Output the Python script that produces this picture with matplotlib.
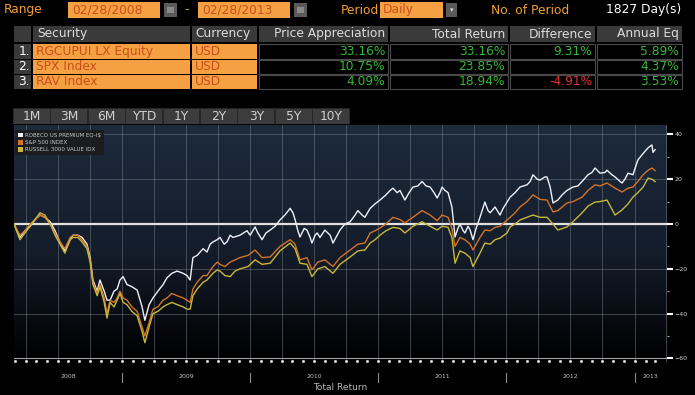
import numpy as np
import pandas as pd
import matplotlib
matplotlib.use("Agg")
import matplotlib.pyplot as plt
import matplotlib.dates as mdates
from matplotlib.patches import Rectangle, Patch
from matplotlib.colors import LinearSegmentedColormap
from matplotlib.transforms import blended_transform_factory

plt.rcParams["font.family"] = ["DejaVu Sans"]

START = pd.Timestamp("2008-02-28")

# ---- table data ----
range_from = "02/28/2008"
range_to = "02/28/2013"
period = "Daily"
n_days = 1827
securities = ["RGCUPUI LX Equity", "SPX Index", "RAV Index"]
currencies = ["USD", "USD", "USD"]
price_appr = [33.16, 10.75, 4.09]
total_ret = [33.16, 23.85, 18.94]
difference = [9.31, None, -4.91]
annual_eq = [5.89, 4.37, 3.53]
buttons = ["1M", "3M", "6M", "YTD", "1Y", "2Y", "3Y", "5Y", "10Y"]

# ---- chart data: days since 2008-02-28, cumulative total return (%) ----
legend_labels = ["ROBECO US PREMIUM EQ-I\\$", "S&P 500 INDEX", "RUSSELL 3000 VALUE IDX"]

robeco_days = [0, 17, 31, 46, 60, 74, 88, 103, 117, 131, 145, 160, 168, 182, 194, 208, 217, 225,
               237, 245, 257, 265, 274, 285, 294, 302, 311, 322, 336, 351, 365, 373, 385, 396,
               410, 425, 436, 450, 465, 482, 493, 502, 510, 522, 539, 550, 559, 567, 579, 587,
               599, 607, 616, 624, 644, 664, 673, 687, 695, 707, 718, 730, 744, 758, 772, 787,
               795, 801, 809, 815, 827, 835, 844, 849, 858, 864, 872, 886, 901, 909, 921, 929,
               943, 958, 972, 980, 992, 1000, 1015, 1029, 1043, 1060, 1072, 1080, 1092, 1100,
               1114, 1126, 1137, 1151, 1163, 1174, 1186, 1197, 1206, 1214, 1220, 1228, 1237,
               1248, 1257, 1265, 1271, 1280, 1285, 1294, 1300, 1308, 1317, 1328, 1342, 1351,
               1357, 1371, 1385, 1394, 1405, 1414, 1428, 1442, 1462, 1471, 1479, 1491, 1499,
               1513, 1519, 1528, 1536, 1550, 1562, 1576, 1593, 1607, 1619, 1636, 1647, 1656,
               1670, 1684, 1690, 1704, 1713, 1727, 1733, 1741, 1750, 1764, 1778, 1793, 1807,
               1818, 1821, 1827]
robeco_ret = [0, -6, -3, -1, 2, 4, 3, 1, -3, -8, -12, -7, -5, -5, -6, -9, -15, -25,
              -30, -25, -30, -34, -34, -30, -29, -25, -23.5, -27, -28, -29.5, -37, -43, -36, -33,
              -30, -27, -24, -22, -21, -22, -23, -25, -15, -14, -11, -12.5, -9, -8, -7, -6,
              -9, -8, -5, -6, -5, -3, -5, -1.3, -4, -7, -4, -2.7, -1, 1.8, 4, 7,
              5, 2, -3, -5.8, -2, -2.7, -6, -8.5, -5, -4, -6, -2.7, -5, -8.5, -5, -2.7,
              0, 1, 4, 6, 4, 3, 7, 9, 10.7, 13, 15, 16, 14, 15,
              10.7, 14, 16.5, 17, 19, 17, 16.5, 14, 11.6, 14, 16.5, 15, 14,
              7.6, -5.8, -2, 0, -3, -4, -1, -2.7, -7, -2, 3, 9.8,
              6, 5, 7.6, 4, 7, 9.8, 12, 14, 16.5, 17.5, 19, 22, 20,
              19.6, 21, 21, 16.5, 9.4, 10.7, 13, 15, 16.5, 17, 19, 22, 23,
              25, 22.7, 23, 24, 22, 21, 19, 18.3, 20, 22.7, 22, 28.6, 31.5,
              34, 35.3, 32, 33.2]

index_days = [0, 17, 31, 46, 60, 74, 88, 103, 117, 131, 145, 160, 168, 182, 194, 208, 217, 225,
              237, 245, 257, 265, 274, 285, 294, 302, 311, 322, 336, 351, 365, 373, 385, 396,
              410, 425, 436, 450, 465, 482, 493, 502, 510, 522, 539, 550, 567, 579, 587, 601,
              616, 630, 644, 667, 687, 707, 730, 758, 787, 801, 815, 835, 849, 866, 886, 909,
              929, 958, 980, 1000, 1015, 1029, 1043, 1060, 1080, 1100, 1114, 1137, 1163, 1186,
              1206, 1220, 1237, 1248, 1257, 1271, 1285, 1300, 1308, 1328, 1342, 1357, 1371,
              1385, 1405, 1414, 1428, 1442, 1462, 1479, 1499, 1519, 1536, 1550, 1576, 1593,
              1619, 1636, 1656, 1670, 1690, 1713, 1733, 1750, 1764, 1778, 1793, 1807, 1818, 1827]
spx_ret = [0, -5, -3, 0, 2, 4, 3, 0, -4, -8, -11, -6, -5, -5, -7, -10, -16, -26,
           -31, -27, -33, -40, -34, -35, -33, -30, -33, -34, -37, -39, -46, -50, -44, -38,
           -37, -34, -33, -31, -32, -33, -34, -35, -29, -26, -23, -23, -19, -17, -18, -19,
           -17, -16, -15, -14, -11.6, -15, -14.7, -10, -7, -9, -16, -15, -20.5, -17, -16, -19,
           -15, -11.6, -9, -8.5, -4, -3, -1.8, 0, 3, 2, 0.5, 3, 6, 4,
           1.5, 4, 3, -2, -10, -6, -7, -9, -11.6, -6, -2.7, -3, -1.5,
           -1, 1.8, 3, 5, 7.6, 10, 13, 11, 10.7, 5.4, 6, 9.4, 10,
           12, 15, 17.5, 17, 18.3, 16, 14.3, 16, 16.5, 19, 22, 24, 25, 23.85]
rav_ret = [0, -7, -4, -1, 2, 5, 4, 0, -5, -9, -13, -7, -6, -6, -8, -11, -17, -27,
           -32, -28, -35, -42, -35, -37, -34, -31, -35, -36, -39, -41, -48, -53, -46, -40,
           -39, -37, -36, -35, -36, -37, -38, -38, -32, -29, -26, -25, -22, -20.5, -21, -23,
           -23.5, -21, -20, -19, -16, -18, -17.5, -12, -8.5, -11, -17.5, -18, -23.5, -20, -19, -22,
           -18, -14.7, -12, -11.6, -8.5, -7, -5, -3, -1.5, -2, -4, -1, 1, -1,
           -2.7, -1, -1.5, -6, -17.5, -12, -13, -15, -19, -13, -8.5, -9, -7,
           -6.3, -4, -1.3, 0, 1.8, 3, 4, 3, 3, 0, -2.7, -1.3, 1,
           5, 8, 9.8, 10, 10.7, 4, 6.3, 9, 12, 14, 16.5, 20.5, 20, 18.94]

# ---- colours ----
ORANGE = "#f5a043"
ORANGE_TXT = "#f0a035"
BOX_TXT = "#c8501a"
GREY = "#3a3a3a"
GREEN = "#35b835"
RED = "#e03535"
series_colors = ["#eef0f8", "#d2732a", "#c8b838"]

W, H = 695, 395
fig = plt.figure(figsize=(W / 100, H / 100), dpi=100, facecolor="black")
bg = fig.add_axes([0, 0, 1, 1])
bg.set_xlim(0, W)
bg.set_ylim(H, 0)
bg.axis("off")


def box(x0, y0, x1, y1, fc, ec="none", lw=0.8):
    bg.add_patch(Rectangle((x0, y0), x1 - x0, y1 - y0, facecolor=fc, edgecolor=ec, lw=lw))


fs = 8.8
# top line
bg.text(4, 10, "Range", color=ORANGE_TXT, fontsize=fs, va="center")
box(68, 2, 160, 18, ORANGE)
bg.text(72, 10, range_from, color=BOX_TXT, fontsize=fs, va="center")
box(164, 3, 177, 17, "#5a5a5a")
box(167, 7, 174, 13, "#8a8a8a")
bg.text(187, 10, "-", color=ORANGE_TXT, fontsize=fs, va="center", ha="center")
box(198, 2, 290, 18, ORANGE)
bg.text(202, 10, range_to, color=BOX_TXT, fontsize=fs, va="center")
box(294, 3, 307, 17, "#5a5a5a")
box(297, 7, 304, 13, "#8a8a8a")
bg.text(379, 10, "Period", color=ORANGE_TXT, fontsize=fs, va="center", ha="right")
box(380, 2, 443, 18, ORANGE)
bg.text(383, 10, period, color=BOX_TXT, fontsize=fs, va="center")
box(446, 3, 457, 17, "#5a5a5a")
bg.text(451.5, 10, "\u25be", color="#dddddd", fontsize=5, va="center", ha="center")
bg.text(530, 10, "No. of Period", color=ORANGE_TXT, fontsize=fs, va="center", ha="center")
bg.text(681, 10, f"{n_days} Day(s)", color="white", fontsize=fs, va="center", ha="right")

# header
cols = [(14, 31), (33, 190), (192, 257), (259, 388), (390, 508), (510, 595), (597, 682)]
for x0, x1 in cols:
    box(x0, 26, x1, 42, GREY)
hy = 34
hc = "#dcdcdc"
bg.text(37, hy, "Security", color=hc, fontsize=fs, va="center")
bg.text(195, hy, "Currency", color=hc, fontsize=fs, va="center")
bg.text(385, hy, "Price Appreciation", color=hc, fontsize=fs, va="center", ha="right")
bg.text(505, hy, "Total Return", color=hc, fontsize=fs, va="center", ha="right")
bg.text(592, hy, "Difference", color=hc, fontsize=fs, va="center", ha="right")
bg.text(679, hy, "Annual Eq", color=hc, fontsize=fs, va="center", ha="right")

row_tops = [44, 59.5, 74.5]
for i in range(3):
    t = row_tops[i]
    b = t + 14.5
    c = (t + b) / 2
    box(14, t, 31, b, GREY)
    bg.text(30, c, f"{i + 1}.", color="white", fontsize=fs, va="center", ha="right")
    box(33, t, 190, b, ORANGE)
    bg.text(36, c, securities[i], color=BOX_TXT, fontsize=fs, va="center")
    box(192, t, 257, b, ORANGE)
    bg.text(195, c, currencies[i], color=BOX_TXT, fontsize=fs, va="center")
    vals = [price_appr[i], total_ret[i], difference[i], annual_eq[i]]
    for (x0, x1), v in zip(cols[3:], vals):
        box(x0, t, x1, b, "black", ec="#4a4a4a", lw=0.8)
        if v is not None:
            bg.text(x1 - 3, c, f"{v:.2f}%", color=GREEN if v >= 0 else RED,
                    fontsize=fs, va="center", ha="right")

# range buttons
box(13, 108, 350, 124, "#262626")
bw = (350 - 13) / len(buttons)
for k, lab in enumerate(buttons):
    x0 = 13 + k * bw
    box(x0 + 0.8, 108.5, x0 + bw - 0.8, 123.5, "#3c3c3c")
    bg.text(x0 + bw / 2, 116, lab, color="#d0d0d0", fontsize=fs, va="center", ha="center")

bg.text(340, 388, "Total Return", color="#b8b8b8", fontsize=6.5, va="center", ha="center")

# ---- chart ----
ax = fig.add_axes([14 / W, (H - 362) / H, (667 - 14) / W, (362 - 125) / H])
ax.set_facecolor("black")
grad = LinearSegmentedColormap.from_list(
    "bb", [(0, "#000000"), (0.12, "#05070b"), (0.45, "#141c2a"), (1, "#1d2b3d")])
ax.imshow(np.linspace(0, 1, 256)[:, None], extent=[0, 1, 0, 1], transform=ax.transAxes,
          cmap=grad, aspect="auto", origin="lower", zorder=0)

x_end = START + pd.Timedelta(days=1861)
ax.set_xlim(START, x_end)
ax.set_ylim(-61.6, 44.2)

robeco_dates = START + pd.to_timedelta(robeco_days, unit="D")
index_dates = START + pd.to_timedelta(index_days, unit="D")
ax.plot(robeco_dates, robeco_ret, color=series_colors[0], lw=1.0, zorder=4)
ax.plot(index_dates, spx_ret, color=series_colors[1], lw=1.0, zorder=4)
ax.plot(index_dates, rav_ret, color=series_colors[2], lw=1.0, zorder=4)

ax.axhline(0, color="#e0e0e0", lw=1.6, zorder=3)
ax.axhline(-60, color="#a0a0a0", lw=0.8, zorder=3)

ax.xaxis.set_major_locator(mdates.MonthLocator(bymonth=[1, 4, 7, 10]))
ax.set_yticks([-60, -40, -20, 0, 20, 40])
ax.set_yticks(np.arange(-50, 41, 20), minor=True)
ax.grid(True, which="major", color="#7d8590", lw=0.6, alpha=0.55, zorder=1)
ax.tick_params(axis="x", length=0, labelbottom=False)
ax.yaxis.tick_right()
ax.tick_params(axis="y", which="major", length=4, width=1.5, color="white",
               labelcolor="#d0d0d0", labelsize=4.5, pad=1.5)
ax.tick_params(axis="y", which="minor", length=1.5, width=0.8, color="#aaaaaa")
for s in ax.spines.values():
    s.set_visible(False)

# month dots under the plot
months = pd.date_range("2008-03-01", "2013-03-01", freq="MS")
ax.plot(months, np.full(len(months), -61.0), ls="none", marker="s", ms=1.0,
        color="#dddddd", clip_on=False, zorder=5)

# year labels and separators
tr = blended_transform_factory(ax.transData, ax.transAxes)
for yr in range(2008, 2014):
    a = max(pd.Timestamp(f"{yr}-01-01"), START)
    b = min(pd.Timestamp(f"{yr + 1}-01-01"), x_end)
    mid = a + (b - a) / 2
    ax.text(mid, -0.063, str(yr), transform=tr, color="#c0c0c0", fontsize=4.5,
            ha="center", va="center")
    if yr > 2008:
        ax.plot([pd.Timestamp(f"{yr}-01-01")] * 2, [-0.045, -0.085], transform=tr,
                color="#8a8a8a", lw=0.8, clip_on=False)

handles = [Patch(facecolor=c, edgecolor="none") for c in series_colors]
leg = ax.legend(handles, legend_labels, loc="upper left", bbox_to_anchor=(0.0015, 0.979),
                fontsize=4, frameon=True, facecolor="#1b1b1b", edgecolor="none",
                framealpha=0.9, fancybox=False, borderpad=0.5, labelspacing=0.35,
                handlelength=0.9, handleheight=0.9, handletextpad=0.4, borderaxespad=0)
for t in leg.get_texts():
    t.set_color("#c8c8c8")
leg.set_zorder(6)

fig.savefig("out.png", dpi=100, facecolor="black")
